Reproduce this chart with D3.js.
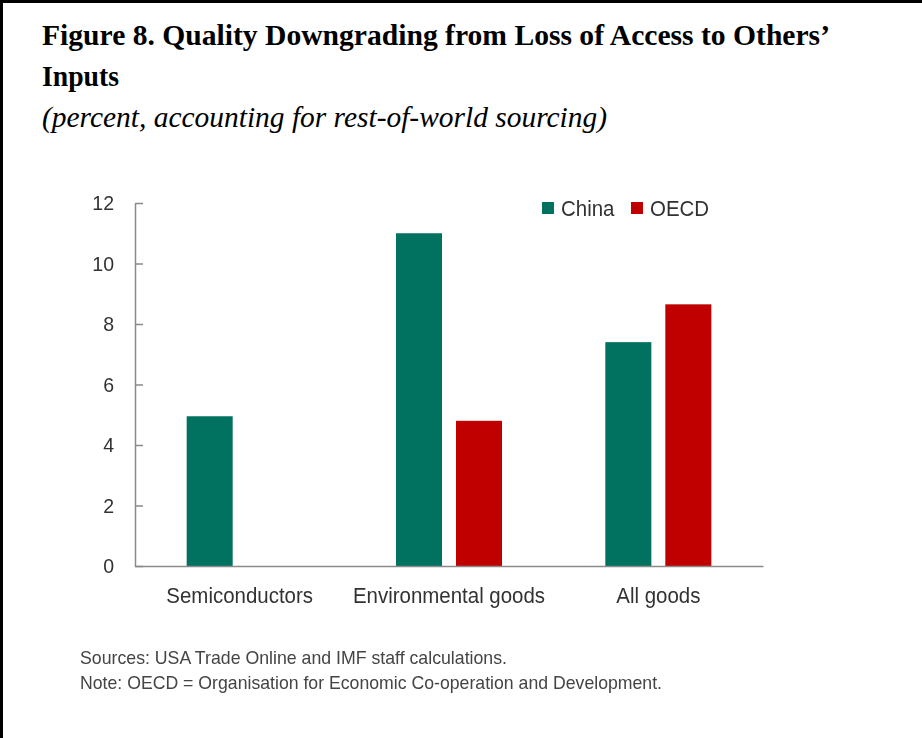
<!DOCTYPE html>
<html>
<head>
<meta charset="utf-8">
<script src="https://cdn.jsdelivr.net/npm/d3@7"></script>
<style>
  html, body { margin: 0; padding: 0; background: #fff; }
  svg { display: block; }
</style>
</head>
<body>
<svg id="chart" width="922" height="738"></svg>
<script>
// Data
const categories = ["Semiconductors", "Environmental goods", "All goods"];
const seriesNames = ["China", "OECD"];
const chinaValues = [4.95, 11.0, 7.4];
const oecdValues = [null, 4.8, 8.65];
const yTicks = [0, 2, 4, 6, 8, 10, 12];
const colors = ["#00725f", "#c00000"];

const svg = d3.select("#chart");

// Slight softening used for the chart body
svg.append("defs").append("filter").attr("id", "soft")
  .attr("x", "-5%").attr("y", "-5%").attr("width", "110%").attr("height", "110%")
  .append("feGaussianBlur").attr("stdDeviation", 0.55);

// Frame edges (top and left rules)
svg.append("rect").attr("x", 0).attr("y", 0).attr("width", 922).attr("height", 3).attr("fill", "#000");
svg.append("rect").attr("x", 0).attr("y", 0).attr("width", 3).attr("height", 738).attr("fill", "#000");

// Title block
const serif = "Liberation Serif, Times New Roman, serif";
svg.append("text")
  .attr("x", 42).attr("y", 45)
  .attr("font-family", serif).attr("font-weight", "bold").attr("font-size", 30)
  .attr("textLength", 788).attr("lengthAdjust", "spacingAndGlyphs")
  .attr("fill", "#000")
  .text("Figure 8. Quality Downgrading from Loss of Access to Others\u2019");
svg.append("text")
  .attr("x", 42).attr("y", 86)
  .attr("font-family", serif).attr("font-weight", "bold").attr("font-size", 30)
  .attr("textLength", 77).attr("lengthAdjust", "spacingAndGlyphs")
  .attr("fill", "#000")
  .text("Inputs");
svg.append("text")
  .attr("x", 42).attr("y", 127)
  .attr("font-family", serif).attr("font-style", "italic").attr("font-size", 30)
  .attr("textLength", 565).attr("lengthAdjust", "spacingAndGlyphs")
  .attr("fill", "#000")
  .text("(percent, accounting for rest-of-world sourcing)");

// Chart
const plot = { left: 135, right: 763, top: 203, bottom: 566 };
const sans = "Liberation Sans, Arial, sans-serif";
const narrow = 0.93; // horizontal condensing of the sans labels

function condense(sel) {
  sel.each(function () {
    const w = this.getComputedTextLength();
    d3.select(this).attr("textLength", w * narrow).attr("lengthAdjust", "spacingAndGlyphs");
  });
}

const x = d3.scaleBand().domain(categories).range([plot.left, plot.right]);
const y = d3.scaleLinear().domain([0, 12]).range([plot.bottom, plot.top]);
const xs = d3.scaleBand().domain(seriesNames).range([-53, 53]).paddingInner(0.233);

const g = svg.append("g").attr("filter", "url(#soft)");

// Bars
const rows = categories.map((c, i) => ({ cat: c, vals: [chinaValues[i], oecdValues[i]] }));
rows.forEach(r => {
  r.vals.forEach((v, j) => {
    if (v == null) return;
    g.append("rect")
      .attr("x", x(r.cat) + x.bandwidth() / 2 + xs(seriesNames[j]))
      .attr("y", y(v))
      .attr("width", xs.bandwidth())
      .attr("height", y(0) - y(v))
      .attr("fill", colors[j]);
  });
});

// Y axis
const yAxis = d3.axisLeft(y).tickValues(yTicks).tickSizeInner(-8).tickSizeOuter(0).tickPadding(21);
const ya = g.append("g").attr("transform", `translate(${plot.left},0)`).call(yAxis);
ya.select(".domain").attr("stroke", "#8a8a8a").attr("stroke-width", 1.5);
ya.selectAll(".tick line").attr("stroke", "#8a8a8a").attr("stroke-width", 1.5);
ya.selectAll(".tick text").attr("font-family", sans).attr("font-size", 21).attr("fill", "#333").call(condense);

// X axis baseline and labels
const xAxis = d3.axisBottom(x).tickSize(0).tickSizeOuter(0).tickPadding(21);
const xa = g.append("g").attr("transform", `translate(0,${plot.bottom})`).call(xAxis);
xa.select(".domain").attr("stroke", "#8a8a8a").attr("stroke-width", 1.5);
xa.selectAll(".tick text").attr("font-family", sans).attr("font-size", 22).attr("fill", "#333").call(condense);

// Legend
const legend = g.append("g");
const legendX = [542, 631];
seriesNames.forEach((s, j) => {
  legend.append("rect").attr("x", legendX[j]).attr("y", 202).attr("width", 12).attr("height", 12).attr("fill", colors[j]);
  legend.append("text").attr("x", legendX[j] + 19).attr("y", 216)
    .attr("font-family", sans).attr("font-size", 22).attr("fill", "#333").text(s).call(condense);
});

// Notes
const notes = svg.append("g").attr("filter", "url(#soft)");
notes.append("text").attr("x", 80).attr("y", 664)
  .attr("font-family", sans).attr("font-size", 19).attr("fill", "#444")
  .attr("textLength", 427).attr("lengthAdjust", "spacingAndGlyphs")
  .text("Sources: USA Trade Online and IMF staff calculations.");
notes.append("text").attr("x", 80).attr("y", 689)
  .attr("font-family", sans).attr("font-size", 19).attr("fill", "#444")
  .attr("textLength", 582).attr("lengthAdjust", "spacingAndGlyphs")
  .text("Note: OECD = Organisation for Economic Co-operation and Development.");
</script>
</body>
</html>
